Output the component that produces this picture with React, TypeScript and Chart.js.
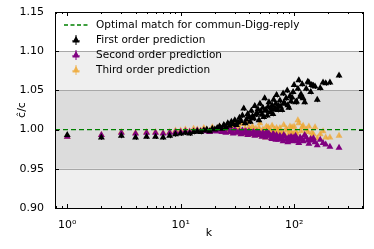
import React, { useEffect, useRef } from "react";
import { Chart, registerables } from "chart.js";
Chart.register(...registerables);

const kValues = [
  1, 2, 3, 4, 5, 6, 7, 8, 9, 10, 11, 12, 13, 14, 15, 16, 17, 18, 19, 20,
  21, 22, 23, 24, 25, 26, 27, 28, 29, 30,
  31, 32, 33, 34, 35, 36, 37, 38, 39, 40,
  41, 42, 43, 44, 45, 46, 47, 48, 49, 50,
  51, 52, 53, 54, 55, 56, 57, 58, 59, 60,
  62, 63, 64, 65, 66, 67, 68, 69, 70,
  72, 73, 75, 76, 78, 80, 81, 83, 85, 87, 88, 90, 92, 94, 96, 98, 100,
  103, 105, 108, 110, 113, 115, 118, 120, 124, 128, 132, 135, 140, 143, 148, 153, 160, 170, 180, 190, 207, 249,
];

const firstOrder = [
  0.993, 0.990, 0.992, 0.990, 0.991, 0.991, 0.990, 0.992,
  0.994, 0.995, 0.996, 0.995, 0.997, 0.998, 0.997, 0.999, 1.000, 0.998, 1.001, 1.000,
  1.002, 1.004, 1.001, 1.006, 1.003, 1.008, 1.005, 1.010, 1.007, 1.012,
  1.006, 1.009, 1.015, 1.011, 1.018, 1.027, 1.008, 1.013, 1.020, 1.016,
  1.010, 1.024, 1.017, 1.014, 1.030, 1.019, 1.021, 1.026, 1.012, 1.033,
  1.023, 1.019, 1.028, 1.016, 1.040, 1.025, 1.024, 1.018, 1.029, 1.035,
  1.022, 1.027, 1.031, 1.020, 1.038, 1.026, 1.027, 1.033, 1.044,
  1.025, 1.030, 1.037, 1.029, 1.025, 1.046, 1.034, 1.033, 1.040, 1.050, 1.031, 1.028, 1.043, 1.036, 1.041, 1.048, 1.057,
  1.035, 1.036, 1.052, 1.063, 1.042, 1.045, 1.058, 1.040, 1.035, 1.052, 1.061, 1.060, 1.048, 1.057, 1.056, 1.055, 1.038, 1.053, 1.060, 1.059, 1.060, 1.069,
];

const secondOrder = [
  0.991, 0.993, 0.996, 0.995, 0.996, 0.996, 0.995, 0.996,
  0.997, 0.997, 0.998, 0.997, 0.998, 0.999, 0.998, 0.999, 0.998, 0.997, 0.999, 0.998,
  0.998, 1.000, 0.997, 0.999, 0.996, 1.001, 0.997, 0.999, 0.995, 1.000,
  0.997, 0.996, 0.998, 0.994, 0.999, 0.995, 0.998, 0.997, 0.993, 0.998,
  0.995, 0.994, 0.996, 0.997, 0.992, 0.995, 0.997, 0.993, 0.996, 0.995,
  0.993, 0.991, 0.996, 0.994, 0.993, 0.990, 0.997, 0.992, 0.995, 0.995,
  0.992, 0.989, 0.988, 0.994, 0.994, 0.991, 0.990, 0.987, 0.993,
  0.990, 0.987, 0.992, 0.988, 0.989, 0.985, 0.993, 0.991, 0.987, 0.988, 0.984, 0.990, 0.986, 0.991, 0.985, 0.990, 0.986,
  0.992, 0.989, 0.985, 0.983, 0.990, 0.987, 0.988, 0.985, 0.993, 0.990, 0.986, 0.982, 0.988, 0.986, 0.989, 0.984, 0.980, 0.987, 0.983, 0.981, 0.978, 0.977,
];

const thirdOrder = [
  0.991, 0.993, 0.997, 0.996, 0.997, 0.997, 0.996, 0.997,
  0.999, 0.999, 1.000, 0.998, 1.001, 1.000, 0.999, 1.002, 1.000, 0.998, 1.003, 0.999,
  1.001, 1.004, 0.998, 1.002, 0.997, 1.005, 0.999, 1.003, 0.996, 1.006,
  1.000, 0.998, 1.002, 0.995, 1.007, 0.997, 1.001, 1.010, 0.994, 1.003,
  0.999, 0.996, 1.004, 1.000, 0.993, 1.001, 0.998, 0.995, 1.002, 1.008,
  0.997, 0.992, 1.000, 0.999, 0.996, 0.990, 1.004, 0.994, 1.003, 1.001,
  0.994, 0.998, 1.005, 0.993, 0.991, 1.000, 0.997, 0.995, 1.002,
  0.999, 0.993, 1.002, 0.997, 0.989, 0.996, 1.006, 0.992, 1.001, 0.999, 0.988, 0.995, 1.004, 0.997, 1.003, 0.994, 1.004,
  0.998, 0.995, 1.012, 1.008, 0.990, 0.998, 1.003, 1.005, 0.993, 1.000, 0.997, 1.004, 0.989, 0.996, 0.994, 1.003, 0.989, 0.994, 0.998, 0.990, 0.990, 0.992,
];

const errorHalf = [0.003, 0.0015, 0.0015];

const optimalValue = 1.0;
const xRange = [0.78, 405];
const yRange = [0.9, 1.15];
const yTicks = [0.9, 0.95, 1.0, 1.05, 1.1, 1.15];
const xTicks = [1, 10, 100];
const xTickLabels = ["10\u2070", "10\u00b9", "10\u00b2"];
const bandEdges = [0.9, 0.95, 1.05, 1.1, 1.15];
const bandColors = ["#efefef", "#dcdcdc", "#efefef", "#ffffff"];
const legendLabels = [
  "Optimal match for commun-Digg-reply",
  "First order prediction",
  "Second order prediction",
  "Third order prediction",
];
const seriesColors = ["#008000", "#000000", "#800080", "rgba(238,168,52,0.78)"];

const FONT = "DejaVu Sans";

function toPoints(values: number[]) {
  return values.map((v, i) => ({ x: kValues[i], y: v }));
}

const decorPlugin = {
  id: "decor",
  beforeDatasetsDraw(chart: any) {
    const { ctx, chartArea } = chart;
    const y = chart.scales.y;
    const x = chart.scales.x;
    ctx.save();
    for (let i = 0; i < bandColors.length; i++) {
      const top = y.getPixelForValue(bandEdges[i + 1]);
      const bot = y.getPixelForValue(bandEdges[i]);
      ctx.fillStyle = bandColors[i];
      ctx.fillRect(chartArea.left, top, chartArea.right - chartArea.left, bot - top);
    }
    ctx.strokeStyle = "#a8a8a8";
    ctx.lineWidth = 1;
    for (const e of [0.95, 1.05, 1.1]) {
      const py = Math.round(y.getPixelForValue(e)) + 0.5;
      ctx.beginPath();
      ctx.moveTo(chartArea.left, py);
      ctx.lineTo(chartArea.right, py);
      ctx.stroke();
    }
    const series = [firstOrder, secondOrder, thirdOrder];
    series.forEach((vals, si) => {
      ctx.strokeStyle = seriesColors[si + 1];
      ctx.lineWidth = 1;
      ctx.beginPath();
      vals.forEach((v, i) => {
        const px = Math.round(x.getPixelForValue(kValues[i])) + 0.5;
        ctx.moveTo(px, y.getPixelForValue(v + errorHalf[si]));
        ctx.lineTo(px, y.getPixelForValue(v - errorHalf[si]));
      });
      ctx.stroke();
    });
    ctx.restore();
  },
  afterDraw(chart: any) {
    const { ctx, chartArea } = chart;
    const x = chart.scales.x;
    const y = chart.scales.y;
    const { left, right, top, bottom } = chartArea;
    ctx.save();
    ctx.strokeStyle = "#000";
    ctx.lineWidth = 1;
    ctx.strokeRect(Math.round(left) + 0.5, Math.round(top) + 0.5, Math.round(right - left), Math.round(bottom - top));
    ctx.beginPath();
    for (let d = 0.1; d <= 1000; d *= 10) {
      for (let m = 1; m <= 9; m++) {
        const v = Math.round(d * m * 1000) / 1000;
        if (v < xRange[0] || v > xRange[1]) continue;
        const px = Math.round(x.getPixelForValue(v)) + 0.5;
        const len = m === 1 ? 4 : 2;
        ctx.moveTo(px, bottom);
        ctx.lineTo(px, bottom - len);
        ctx.moveTo(px, top);
        ctx.lineTo(px, top + len);
      }
    }
    for (const v of yTicks) {
      const py = Math.round(y.getPixelForValue(v)) + 0.5;
      ctx.moveTo(left, py);
      ctx.lineTo(left + 4, py);
      ctx.moveTo(right, py);
      ctx.lineTo(right - 4, py);
    }
    ctx.stroke();

    ctx.fillStyle = "#000";
    ctx.font = `11px "${FONT}"`;
    ctx.textAlign = "center";
    ctx.textBaseline = "middle";
    ctx.fillText("k", (left + right) / 2, 233);
    ctx.save();
    ctx.translate(22, (top + bottom) / 2);
    ctx.rotate(-Math.PI / 2);
    ctx.fillText("\u0109/c", 0, 0);
    ctx.restore();

    const lx = left + 9;
    const rowY = [top + 13, top + 28, top + 43, top + 58];
    ctx.font = `10.5px "${FONT}"`;
    ctx.textAlign = "left";
    legendLabels.forEach((label, i) => {
      const cy = rowY[i];
      if (i === 0) {
        ctx.strokeStyle = seriesColors[0];
        ctx.lineWidth = 1.3;
        ctx.setLineDash([4, 2.5]);
        ctx.beginPath();
        ctx.moveTo(lx, cy);
        ctx.lineTo(lx + 24, cy);
        ctx.stroke();
        ctx.setLineDash([]);
      } else {
        const cx = lx + 12;
        ctx.strokeStyle = seriesColors[i];
        ctx.lineWidth = 1;
        ctx.beginPath();
        ctx.moveTo(cx - 4, cy + 1);
        ctx.lineTo(cx + 4, cy + 1);
        ctx.moveTo(cx, cy - 5);
        ctx.lineTo(cx, cy + 5);
        ctx.stroke();
        ctx.fillStyle = seriesColors[i];
        ctx.beginPath();
        ctx.moveTo(cx, cy - 4);
        ctx.lineTo(cx + 3.6, cy + 2.5);
        ctx.lineTo(cx - 3.6, cy + 2.5);
        ctx.closePath();
        ctx.fill();
      }
      ctx.fillStyle = "#000";
      ctx.fillText(label, lx + 32, cy);
    });
    ctx.restore();
  },
};

export default function App() {
  const canvasRef = useRef<HTMLCanvasElement | null>(null);
  useEffect(() => {
    if (!canvasRef.current) return;
    const pointCommon = {
      type: "scatter" as const,
      showLine: false,
      pointStyle: "triangle" as const,
      pointRadius: 4,
      pointHoverRadius: 4,
      borderWidth: 0,
    };
    const chart = new Chart(canvasRef.current, {
      type: "scatter",
      data: {
        datasets: [
          {
            type: "line",
            label: legendLabels[0],
            data: [
              { x: xRange[0], y: optimalValue },
              { x: xRange[1], y: optimalValue },
            ],
            borderColor: seriesColors[0],
            borderWidth: 1.3,
            borderDash: [5, 3],
            pointRadius: 0,
            fill: false,
          } as any,
          { ...pointCommon, label: legendLabels[1], data: toPoints(firstOrder), backgroundColor: seriesColors[1], borderColor: seriesColors[1] },
          { ...pointCommon, label: legendLabels[2], data: toPoints(secondOrder), backgroundColor: seriesColors[2], borderColor: seriesColors[2] },
          { ...pointCommon, label: legendLabels[3], data: toPoints(thirdOrder), backgroundColor: seriesColors[3], borderColor: seriesColors[3] },
        ],
      },
      options: {
        animation: false,
        responsive: false,
        maintainAspectRatio: false,
        layout: { padding: { top: 12, right: 11, left: 0, bottom: 0 } },
        plugins: { legend: { display: false }, tooltip: { enabled: false } },
        scales: {
          x: {
            type: "logarithmic",
            min: xRange[0],
            max: xRange[1],
            grid: { display: false },
            border: { display: false },
            afterBuildTicks: (s: any) => {
              s.ticks = xTicks.map((v) => ({ value: v }));
            },
            afterFit: (s: any) => {
              s.height = 41;
            },
            ticks: {
              autoSkip: false,
              maxRotation: 0,
              padding: 3,
              color: "#000",
              font: { family: FONT, size: 11 },
              callback: (v: any) => {
                const i = xTicks.indexOf(Number(v));
                return i >= 0 ? xTickLabels[i] : "";
              },
            },
          },
          y: {
            type: "linear",
            min: yRange[0],
            max: yRange[1],
            grid: { display: false },
            border: { display: false },
            afterBuildTicks: (s: any) => {
              s.ticks = yTicks.map((v) => ({ value: v }));
            },
            afterFit: (s: any) => {
              s.width = 55;
            },
            ticks: {
              padding: 3,
              color: "#000",
              font: { family: FONT, size: 11 },
              callback: (v: any) => Number(v).toFixed(2),
            },
          },
        },
      },
      plugins: [decorPlugin],
    });
    return () => chart.destroy();
  }, []);
  return (
    <div style={{ position: "fixed", left: 0, top: 0, width: 374, height: 249, background: "#fff" }}>
      <canvas ref={canvasRef} width={374} height={249} style={{ display: "block" }} />
    </div>
  );
}
